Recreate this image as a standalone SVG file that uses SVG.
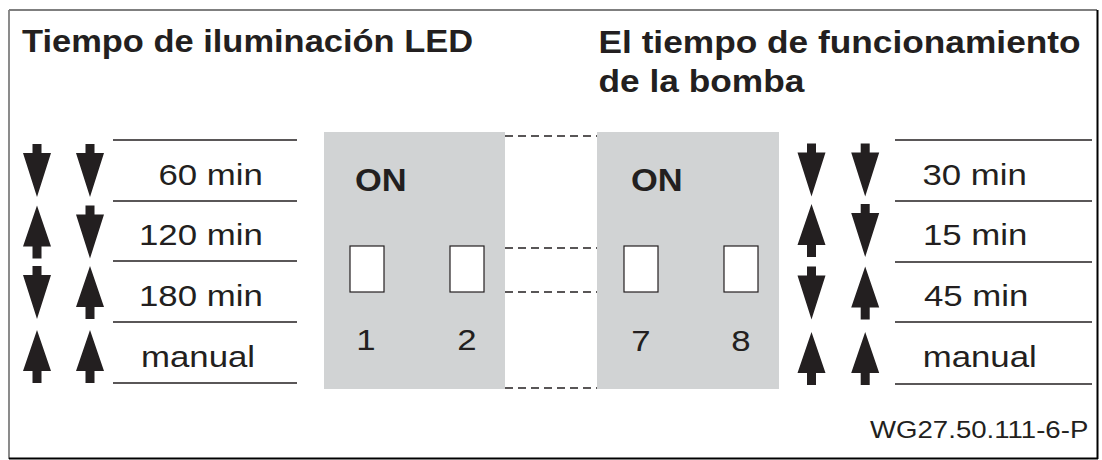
<svg xmlns="http://www.w3.org/2000/svg" width="1102" height="460" viewBox="0 0 1102 460">
  <style>
    .t { font-family: "Liberation Sans", Arial, sans-serif; fill: #231f20; }
    .b { font-weight: bold; font-size: 30.5px; }
    .b2 { font-weight: bold; font-size: 31.5px; }
    .r { font-size: 30px; }
    .s { font-size: 24px; }
    .rule { stroke: #231f20; stroke-width: 1.4; fill: none; }
    .dash { stroke: #231f20; stroke-width: 1.4; stroke-dasharray: 8 5; fill: none; }
    .panel { fill: #d1d3d4; }
    .sw { fill: #ffffff; stroke: #231f20; stroke-width: 1.2; }
    .arr { fill: #231f20; }
  </style>
  <defs>
    <path id="down" d="M-4.5,0 H4.5 V9 H14 L0,53 L-14,9 H-4.5 Z"/>
    <path id="up" d="M0,0 L14,41 H4.5 V53 H-4.5 V41 H-14 Z"/>
  </defs>
  <rect x="0" y="0" width="1102" height="460" fill="#ffffff"/>
  <g id="frame">
    <line x1="9" y1="10" x2="1097" y2="10" stroke="#7f7f7f" stroke-width="1.8"/>
    <line x1="9" y1="10" x2="9" y2="459" stroke="#7f7f7f" stroke-width="1.8"/>
    <line x1="1097.5" y1="10" x2="1097.5" y2="459" stroke="#000000" stroke-width="2"/>
    <line x1="9" y1="458.5" x2="1098" y2="458.5" stroke="#000000" stroke-width="2"/>
  </g>
  <g id="titles">
    <text class="t b" transform="translate(22,52) scale(1.13,1)">Tiempo de iluminación LED</text>
    <text class="t b2" transform="translate(598.5,53) scale(1.12,1)">El tiempo de funcionamiento</text>
    <text class="t b2" transform="translate(598.5,92) scale(1.12,1)">de la bomba</text>
  </g>
  <g id="left-table">
    <line class="rule" x1="113" y1="140" x2="297" y2="140"/>
    <line class="rule" x1="113" y1="201" x2="297" y2="201"/>
    <line class="rule" x1="113" y1="261" x2="297" y2="261"/>
    <line class="rule" x1="113" y1="322" x2="297" y2="322"/>
    <line class="rule" x1="113" y1="383" x2="297" y2="383"/>
    <use href="#down" class="arr" x="37" y="144"/>
    <use href="#down" class="arr" x="90" y="144"/>
    <use href="#up" class="arr" x="37" y="205.5"/>
    <use href="#down" class="arr" x="90" y="205.5"/>
    <use href="#down" class="arr" x="37" y="266"/>
    <use href="#up" class="arr" x="90" y="266"/>
    <use href="#up" class="arr" x="37" y="330"/>
    <use href="#up" class="arr" x="90" y="330"/>
    <text class="t r" transform="translate(158.5,185) scale(1.16,1)">60 min</text>
    <text class="t r" transform="translate(139,245) scale(1.16,1)">120 min</text>
    <text class="t r" transform="translate(139,306) scale(1.16,1)">180 min</text>
    <text class="t r" transform="translate(141,367) scale(1.16,1)">manual</text>
  </g>
  <g id="switch-1-2">
    <rect class="panel" x="324" y="132" width="181" height="257"/>
    <text class="t b" transform="translate(355,191) scale(1.13,1)">ON</text>
    <rect class="sw" x="350" y="246" width="34" height="46"/>
    <rect class="sw" x="450" y="246" width="34" height="46"/>
    <text class="t r" text-anchor="middle" transform="translate(366,350) scale(1.16,1)">1</text>
    <text class="t r" text-anchor="middle" transform="translate(467,350) scale(1.16,1)">2</text>
  </g>
  <g id="switch-7-8">
    <rect class="panel" x="597" y="132" width="182" height="257"/>
    <text class="t b" transform="translate(631,191) scale(1.13,1)">ON</text>
    <rect class="sw" x="624" y="246" width="34" height="46"/>
    <rect class="sw" x="724" y="246" width="34" height="46"/>
    <text class="t r" text-anchor="middle" transform="translate(641,351) scale(1.16,1)">7</text>
    <text class="t r" text-anchor="middle" transform="translate(741,351) scale(1.16,1)">8</text>
  </g>
  <g id="connectors">
    <line class="dash" x1="505" y1="136" x2="597" y2="136"/>
    <line class="dash" x1="505" y1="248" x2="597" y2="248"/>
    <line class="dash" x1="505" y1="292" x2="597" y2="292"/>
    <line class="dash" x1="505" y1="388" x2="597" y2="388"/>
  </g>
  <g id="right-table">
    <line class="rule" x1="895" y1="140" x2="1092" y2="140"/>
    <line class="rule" x1="895" y1="201" x2="1092" y2="201"/>
    <line class="rule" x1="895" y1="262" x2="1092" y2="262"/>
    <line class="rule" x1="895" y1="322" x2="1092" y2="322"/>
    <line class="rule" x1="895" y1="384" x2="1092" y2="384"/>
    <use href="#down" class="arr" x="811.5" y="143.5"/>
    <use href="#down" class="arr" x="865.2" y="143.5"/>
    <use href="#up" class="arr" x="811.5" y="204"/>
    <use href="#down" class="arr" x="865.2" y="204"/>
    <use href="#down" class="arr" x="811.5" y="266.5"/>
    <use href="#up" class="arr" x="865.2" y="266.5"/>
    <use href="#up" class="arr" x="811.5" y="332"/>
    <use href="#up" class="arr" x="865.2" y="332"/>
    <text class="t r" transform="translate(922.5,185) scale(1.16,1)">30 min</text>
    <text class="t r" transform="translate(923,245) scale(1.16,1)">15 min</text>
    <text class="t r" transform="translate(924,306) scale(1.16,1)">45 min</text>
    <text class="t r" transform="translate(922.7,367) scale(1.16,1)">manual</text>
  </g>
  <g id="code">
    <text class="t s" transform="translate(870,438) scale(1.15,1)">WG27.50.111-6-P</text>
  </g>
</svg>
